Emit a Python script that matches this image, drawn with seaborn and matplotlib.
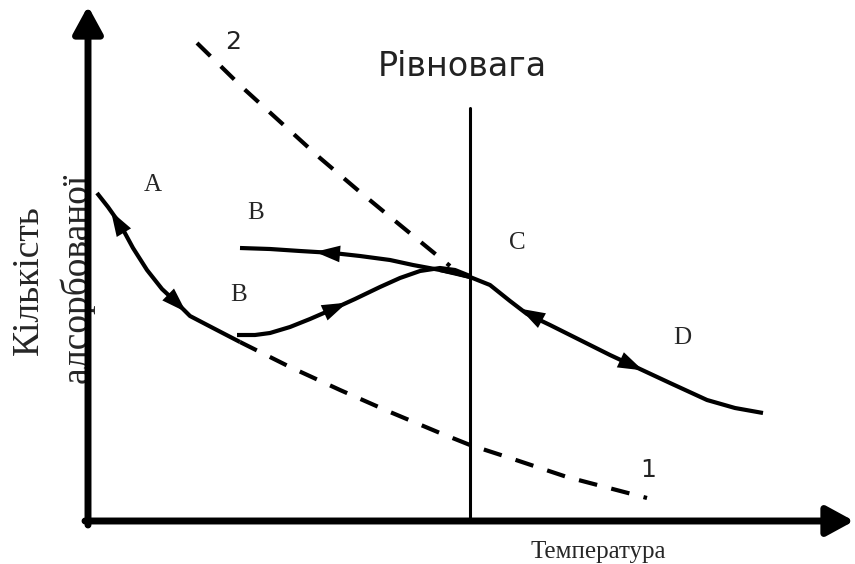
import numpy as np
import matplotlib
matplotlib.use('Agg')
import matplotlib.pyplot as plt
import seaborn as sns

# =============================================================================
# 1. ДАНІ (схема, координати в умовних одиницях "піксель")
# =============================================================================
# Крива A (адсорбція при низькій температурі)
a_x = [97, 108, 120, 133, 147, 162, 177, 190, 213, 240]
a_y = [193, 207, 224, 248, 270, 289, 303, 316, 328, 342]

# Нижня гілка B (нагрівання)
b_low_x = [237, 255, 270, 290, 310, 333, 355, 380, 400, 420, 440, 455, 470]
b_low_y = [335, 335, 333, 327, 319, 309, 299, 287, 278, 271, 268, 270, 276]

# Верхня гілка B (охолодження)
b_up_x = [240, 270, 300, 333, 360, 390, 413, 440, 470]
b_up_y = [248, 249, 251, 253, 256, 260, 265, 270, 277]

# Крива C-D (рівноважна область)
cd_x = [440, 455, 470, 490, 510, 527, 550, 580, 610, 640, 670, 707, 735, 763]
cd_y = [270, 273, 277, 285, 301, 314, 325, 340, 355, 369, 383, 400, 408, 413]

# Штрихова крива 1
d1_x = [240, 290, 340, 390, 440, 470, 507, 567, 647]
d1_y = [342, 367, 390, 412, 433, 445, 457, 477, 498]

# Штрихова крива 2
d2_x = [197, 243, 287, 320, 360, 400, 450]
d2_y = [43, 88, 128, 158, 192, 225, 266]

# Стрілки напрямку: (крива, x хвоста, x вістря)
strilky = [
    ('a', 135, 111),
    ('a', 160, 186),
    ('b_up', 345, 315),
    ('b_low', 320, 347),
    ('cd', 550, 520),
    ('cd', 613, 643),
]

T_rivnovagy = 470  # положення лінії рівноваги

# =============================================================================
# 2. ПОБУДОВА
# =============================================================================
sns.set_style('white')
plt.rcParams['font.family'] = ['DejaVu Sans']

fig = plt.figure(figsize=(8.55, 5.64), dpi=100)
ax = fig.add_axes([0, 0, 1, 1])
ax.set_xlim(0, 855)
ax.set_ylim(564, 0)
ax.axis('off')

kryvi = {
    'a': (a_x, a_y),
    'b_low': (b_low_x, b_low_y),
    'b_up': (b_up_x, b_up_y),
    'cd': (cd_x, cd_y),
}

for kx, ky in kryvi.values():
    sns.lineplot(x=kx, y=ky, ax=ax, color='black', lw=3, sort=False,
                 estimator=None, solid_capstyle='butt')

for kx, ky in [(d1_x, d1_y), (d2_x, d2_y)]:
    sns.lineplot(x=kx, y=ky, ax=ax, color='black', lw=3, sort=False,
                 estimator=None)
    ax.lines[-1].set_dashes((4.5, 3.5))

# стрілки на кривих
for nazva, x_tail, x_tip in strilky:
    kx, ky = kryvi[nazva]
    ax.annotate('', xy=(x_tip, np.interp(x_tip, kx, ky)),
                xytext=(x_tail, np.interp(x_tail, kx, ky)),
                arrowprops=dict(arrowstyle='-|>,head_length=1.8,head_width=0.6',
                                color='black', lw=0, shrinkA=0, shrinkB=0,
                                mutation_scale=10))

# лінія рівноваги
ax.axvline(T_rivnovagy, ymin=(564 - 520) / 564, ymax=(564 - 108) / 564,
           color='black', lw=2.2)

# осі зі стрілками
ax.annotate('', xy=(88, 6), xytext=(88, 525),
            arrowprops=dict(arrowstyle='-|>,head_length=1.1,head_width=0.6',
                            color='black', lw=5, shrinkA=0, shrinkB=0,
                            mutation_scale=15), zorder=5)
ax.annotate('', xy=(854, 521), xytext=(85, 521),
            arrowprops=dict(arrowstyle='-|>,head_length=1.1,head_width=0.6',
                            color='black', lw=5, shrinkA=0, shrinkB=0,
                            mutation_scale=15), zorder=5)

# =============================================================================
# 3. ПІДПИСИ
# =============================================================================
serif = ['Liberation Serif', 'DejaVu Serif']
for txt, x, y in [('A', 153, 185), ('B', 256, 213), ('B', 239, 295),
                  ('C', 517, 243), ('D', 682, 338)]:
    ax.text(x, y, txt, family=serif, fontsize=18, ha='center', va='center')

ax.text(233, 42, '2', fontsize=18, ha='center', va='center', color='#222222')
ax.text(648, 470, '1', fontsize=18, ha='center', va='center', color='#222222')
ax.text(462, 67, 'Рівновага', fontsize=24, ha='center', va='center',
        color='#222222')

ax.text(598, 552, 'Температура', family=serif, fontsize=18,
        ha='center', va='center')
ax.text(29, 280, 'Кількість', family=serif, fontsize=27, rotation=90,
        ha='center', va='center')
ax.text(77, 278, 'алсорбованої', family=serif, fontsize=27, rotation=90,
        ha='center', va='center', zorder=1)

plt.savefig('out.png', dpi=100)
plt.close()
